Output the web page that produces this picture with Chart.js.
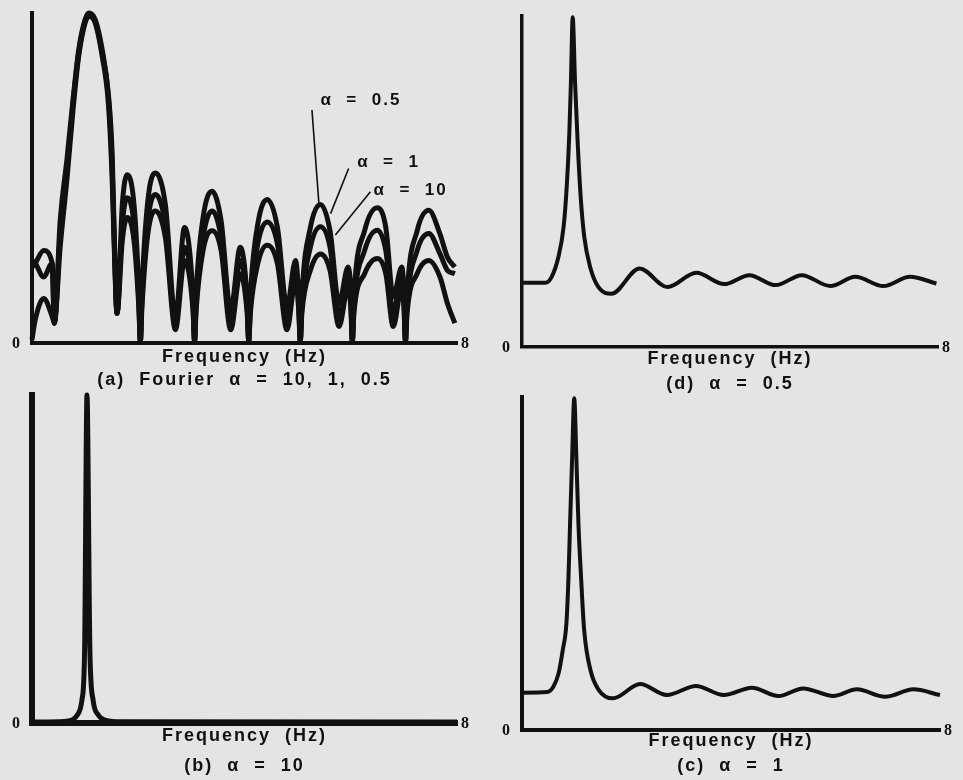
<!DOCTYPE html>
<html>
<head>
<meta charset="utf-8">
<script src="https://cdn.jsdelivr.net/npm/chart.js@4.4.1/dist/chart.umd.min.js"></script>
<style>
  html, body { margin: 0; padding: 0; background: #e4e4e2; }
  body { width: 963px; height: 780px; position: relative; overflow: hidden; }
  .panel { position: absolute; }
</style>
</head>
<body>
<div class="panel" style="left:0;top:0;width:482px;height:391px"><canvas id="chart-a"></canvas></div>
<div class="panel" style="left:482px;top:0;width:481px;height:395px"><canvas id="chart-d"></canvas></div>
<div class="panel" style="left:0;top:380px;width:482px;height:396px"><canvas id="chart-b"></canvas></div>
<div class="panel" style="left:482px;top:382px;width:481px;height:394px"><canvas id="chart-c"></canvas></div>
<script>
// (a) Fourier spectra for three alpha values, shared frequency grid in Hz
var freqA = [0, 0.06, 0.22, 0.38, 0.42,
  0.53, 0.66, 0.78, 0.88, 1.00, 1.07, 1.19, 1.32, 1.44, 1.51, 1.55, 1.60,
  1.70, 1.79, 1.92, 2.01, 2.04, 2.07,
  2.18, 2.32, 2.51, 2.70, 2.87, 3.03, 3.06, 3.09,
  3.22, 3.39, 3.56, 3.74, 3.92, 4.05, 4.08, 4.11,
  4.25, 4.43, 4.62, 4.80, 4.96, 5.02, 5.05, 5.08,
  5.24, 5.43, 5.61, 5.78, 5.95, 6.00, 6.03, 6.06,
  6.26, 6.50, 6.66, 6.80, 6.96, 7.00, 7.03, 7.06,
  7.25, 7.47, 7.68, 7.82, 7.96];
var alphaHalf = [23, 24.2, 28, 24.2, 6,
  37, 56, 75, 89, 98, 100, 98, 89, 75, 57, 32, 9,
  42, 51, 42, 16, 0.5, 16,
  43, 51.5, 42, 8, 35, 14, 0.5, 15,
  38, 46, 37, 10, 29, 13, 0.5, 14,
  36, 43.5, 35, 11, 25, 14, 0.5, 14,
  35, 42, 34, 12, 23, 16, 0.5, 14,
  34, 41, 35, 14, 23, 16, 0.5, 14,
  34, 40.2, 33, 26, 23];
var alphaOne = [25, 24.2, 20, 24.2, 6,
  33, 53, 74, 88, 97.5, 99.5, 97.5, 88, 74, 53, 30, 9,
  36, 44, 36, 13, 0.5, 13,
  37, 45, 36, 6, 29, 12, 0.5, 12,
  32, 40, 32, 7, 25, 11, 0.5, 11,
  30, 36.7, 30, 8, 22, 12, 0.5, 11,
  29, 35.2, 29, 8, 21, 14, 0.5, 11,
  28, 34.2, 28, 9, 21, 14, 0.5, 11,
  28, 33.2, 27, 22, 21];
var alphaTen = [1, 7, 13.5, 8, 6,
  29, 50, 72, 87, 97, 99, 97, 87, 72, 49, 28, 9,
  31, 38, 31, 11, 0.5, 11,
  33, 40, 32, 4, 25, 10, 0.5, 10,
  28, 34, 28, 4, 21, 9, 0.5, 9,
  24, 29.6, 24, 4, 19, 10, 0.5, 9,
  22, 27, 22, 5, 17, 11, 0.5, 9,
  21, 25.6, 21, 5, 17, 11, 0.5, 9,
  21, 25, 20, 12, 6];

// (b) alpha = 10
var freqB = [0, 0.5, 0.75, 0.85, 0.94, 0.99, 1.035, 1.09, 1.15, 1.25, 1.38, 1.7, 8];
var ampB = [0.3, 0.4, 0.9, 2.4, 7, 22, 100, 22, 7, 2.4, 0.9, 0.4, 0.3];

// (c) alpha = 1
var freqC = [0, 0.48, 0.60, 0.70, 0.78, 0.85, 0.89, 0.92, 0.96, 1.00, 1.04, 1.08, 1.13, 1.19, 1.31, 1.47, 1.74,
  2.26, 2.77, 3.33, 3.86, 4.40, 4.91, 5.38, 5.96, 6.41, 6.95, 7.49, 8.0];
var ampC = [11.2, 11.4, 13, 17, 24, 32, 46, 62, 82, 99.6, 82, 62, 46, 30, 18, 12, 9.5,
  13.8, 10.5, 13.2, 10.5, 12.7, 10.2, 12.5, 10.2, 12.2, 10.0, 12.2, 10.5];

// (d) alpha = 0.5
var freqD = [0, 0.45, 0.57, 0.70, 0.80, 0.86, 0.91, 0.94, 0.975, 1.02, 1.07, 1.13, 1.20, 1.31, 1.47, 1.72,
  2.26, 2.80, 3.35, 3.89, 4.37, 4.88, 5.38, 5.93, 6.41, 6.95, 7.46, 7.97];
var ampD = [19.4, 19.4, 21.2, 27.2, 36.3, 48.4, 64.5, 79.6, 99.6, 80, 62, 45, 33, 24.2, 18.1, 16.1,
  23.7, 18.1, 22.4, 19.0, 21.7, 18.7, 21.7, 18.4, 21.2, 18.4, 21.2, 19.2];

var axisEnds = ['0', '8'];
var axisTitle = 'Frequency  (Hz)';

var ink = '#111';

function pts(xs, ys) {
  return xs.map(function (x, i) { return { x: x, y: ys[i] }; });
}

// wide lettering like the typed figure labels
var spaced = {
  id: 'spaced',
  beforeDraw: function (chart) { chart.ctx.letterSpacing = '2px'; }
};

// "0" and "8" at the ends of the frequency axis, plus the curve labels with leader lines
var marks = {
  id: 'marks',
  afterDraw: function (chart, args, opts) {
    var ctx = chart.ctx, x = chart.scales.x, y = chart.scales.y;
    ctx.save();
    ctx.letterSpacing = '0px';
    ctx.fillStyle = ink;
    ctx.strokeStyle = ink;
    ctx.font = 'bold 16px "Liberation Serif"';
    ctx.textAlign = 'center';
    ctx.textBaseline = 'middle';
    ctx.fillText(axisEnds[0], x.left - 16, y.bottom + 1);
    ctx.fillText(axisEnds[1], x.right + 8, y.bottom + 1);
    (opts.notes || []).forEach(function (n) {
      ctx.lineWidth = 1.6;
      ctx.beginPath();
      ctx.moveTo(x.getPixelForValue(n.from[0]), y.getPixelForValue(n.from[1]));
      ctx.lineTo(x.getPixelForValue(n.to[0]), y.getPixelForValue(n.to[1]));
      ctx.stroke();
      ctx.letterSpacing = '2px';
      ctx.font = 'bold 17px "Liberation Sans"';
      ctx.textAlign = 'left';
      ctx.fillText(n.text, x.getPixelForValue(n.at[0]), y.getPixelForValue(n.at[1]));
    });
    ctx.restore();
  }
};

function spectrum(id, cfg) {
  var font = { family: '"Liberation Sans", Arial, sans-serif', size: 18, weight: 'bold', lineHeight: '18px' };
  return new Chart(document.getElementById(id), {
    type: 'line',
    data: {
      datasets: cfg.series.map(function (s) {
        return {
          data: s,
          borderColor: ink,
          borderWidth: cfg.lineWidth,
          pointRadius: 0,
          fill: false,
          cubicInterpolationMode: 'monotone',
          clip: false
        };
      })
    },
    options: {
      responsive: true,
      maintainAspectRatio: false,
      animation: false,
      events: [],
      layout: { padding: cfg.padding },
      scales: {
        x: {
          type: 'linear', min: 0, max: 8,
          grid: { display: false, drawTicks: false },
          border: { display: true, color: ink, width: cfg.axisWidth },
          ticks: { display: false },
          title: { display: true, text: axisTitle, color: ink, font: font, padding: cfg.titlePad }
        },
        y: {
          min: 0, max: 100,
          grid: { display: false, drawTicks: false },
          border: { display: true, color: ink, width: cfg.axisWidth },
          ticks: { display: false }
        }
      },
      plugins: {
        legend: { display: false },
        tooltip: { enabled: false },
        title: {
          display: true, position: 'bottom', text: cfg.caption,
          color: ink, font: font, padding: cfg.captionPad
        },
        marks: { notes: cfg.notes || [] }
      }
    },
    plugins: [spaced, marks]
  });
}

spectrum('chart-a', {
  series: [pts(freqA, alphaHalf), pts(freqA, alphaOne), pts(freqA, alphaTen)],
  lineWidth: 5, axisWidth: 4,
  padding: { left: 32, top: 13, right: 25, bottom: 0 },
  titlePad: { top: 5, bottom: 3 },
  captionPad: { top: 2, bottom: 2 },
  caption: '(a)  Fourier  α  =  10,  1,  0.5',
  notes: [
    { text: 'α  =  0.5', at: [5.43, 73.6], from: [5.27, 70.6], to: [5.40, 42.3] },
    { text: 'α  =  1', at: [6.12, 54.9], from: [5.96, 52.9], to: [5.62, 39.2] },
    { text: 'α  =  10', at: [6.43, 46.3], from: [6.37, 45.8], to: [5.71, 32.7] }
  ]
});

spectrum('chart-d', {
  series: [pts(freqD, ampD)],
  lineWidth: 4, axisWidth: 3.5,
  padding: { left: 40, top: 16, right: 25, bottom: 0 },
  titlePad: { top: 3, bottom: 4 },
  captionPad: { top: 3, bottom: 2 },
  caption: '(d)  α  =  0.5'
});

spectrum('chart-b', {
  series: [pts(freqB, ampB)],
  lineWidth: 5, axisWidth: 6,
  padding: { left: 32, top: 15, right: 25, bottom: 0 },
  titlePad: { top: 4, bottom: 6 },
  captionPad: { top: 6, bottom: 1 },
  caption: '(b)  α  =  10'
});

spectrum('chart-c', {
  series: [pts(freqC, ampC)],
  lineWidth: 4, axisWidth: 4,
  padding: { left: 40, top: 15, right: 23, bottom: 0 },
  titlePad: { top: 2, bottom: 4 },
  captionPad: { top: 3, bottom: 1 },
  caption: '(c)  α  =  1'
});
</script>
</body>
</html>
